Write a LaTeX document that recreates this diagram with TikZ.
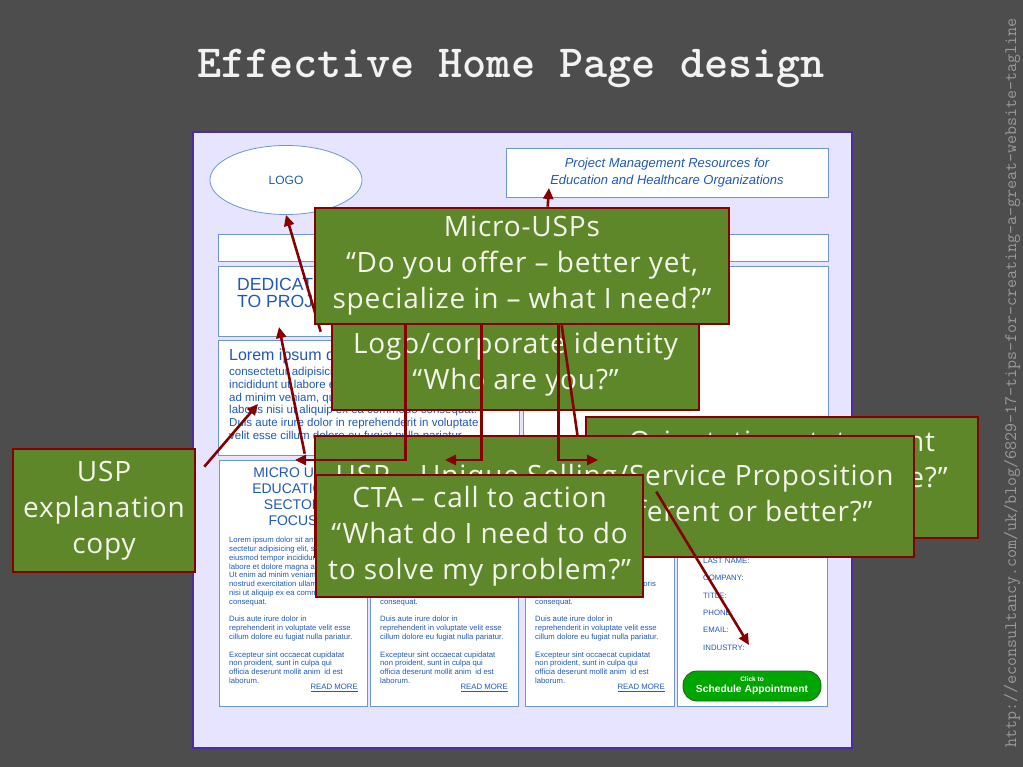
\documentclass[tikz,border=0pt]{standalone}
\usepackage{fontspec}
\usepackage{xcolor}
\usepackage{tikz}
\usetikzlibrary{calc,shapes.geometric,arrows.meta}
\setmainfont{Liberation Sans}
\newfontfamily\callfont{Open Sans}[LetterSpace=3]
\definecolor{slide}{HTML}{4D4D4D}
\definecolor{titlewhite}{HTML}{F2F2F2}
\definecolor{urlgray}{HTML}{9A9A9A}
\definecolor{panel}{HTML}{E6E4FE}
\definecolor{panelline}{HTML}{4F2AA5}
\definecolor{wireline}{HTML}{6C94D8}
\definecolor{wireblue}{HTML}{2059B8}
\definecolor{callgreen}{HTML}{5E8729}
\definecolor{callred}{HTML}{860000}
\definecolor{calltext}{HTML}{F4F4EC}
\definecolor{buttongreen}{HTML}{00A600}
\definecolor{buttonline}{HTML}{1F5F1F}

\tikzset{
  wirebox/.style={draw=wireline, fill=white, line width=0.8pt, inner sep=0pt},
  wiretext/.style={text=wireblue, inner sep=0pt, align=left},
  callout/.style={draw=callred, fill=callgreen, line width=2.6pt, text=calltext,
                  font=\callfont\fontsize{28}{36}\selectfont, align=center, inner sep=0pt},
  callarrow/.style={-{Triangle[length=11pt,width=10pt]}, line width=2.6pt, draw=callred},
  callline/.style={line width=2.6pt, draw=callred},
}

% same copy in the three micro-USP columns
\newcommand{\colbody}{Lorem ipsum dolor sit amet, con-\\sectetur adipisicing elit, sed do\\eiusmod tempor incididunt ut\\labore et dolore magna aliqua.\\Ut enim ad minim veniam, quis\\nostrud exercitation ullamco laboris\\nisi ut aliquip ex ea commodo\\consequat.\\[8.8pt]Duis aute irure dolor in\\reprehenderit in voluptate velit esse\\cillum dolore eu fugiat nulla pariatur.\\[8.8pt]Excepteur sint occaecat cupidatat\\non proident, sunt in culpa qui\\officia deserunt mollit anim\ \ id est\\laborum.}

\begin{document}
\begin{tikzpicture}[x=1pt, y=-1pt]
% slide and page size
\fill[slide] (0,0) rectangle (1023,767);
\useasboundingbox (0,0) rectangle (1023,767);

\node[text=titlewhite, font=\ttfamily\bfseries\fontsize{46}{50}\selectfont] (title) at (511,68) {Effective Home Page design};
\node[text=urlgray, font=\ttfamily\fontsize{17.5}{18}\selectfont, rotate=90] (url) at (1012,383)
     {http://econsultancy.com/uk/blog/6829-17-tips-for-creating-a-great-website-tagline};

% the wireframe of the home page
\draw[draw=panelline, fill=panel, line width=2pt] (193,132) rectangle (852,748);

\node[wirebox, ellipse, minimum width=152pt, minimum height=69pt, text=wireblue,
      font=\fontsize{12}{14}\selectfont] (logo) at (286,180) {LOGO};
\node[wirebox, minimum width=322pt, minimum height=49pt, text=wireblue, align=center,
      font=\itshape\fontsize{13}{17}\selectfont] (tagline) at (667,172.5)
     {Project Management Resources for\\Education and Healthcare Organizations};
\node[wirebox, minimum width=610pt, minimum height=27pt] (navbar) at (523,247.5) {};
\node[wirebox, minimum width=301pt, minimum height=70pt] (banner) at (368.5,301) {};
\node[wirebox, minimum width=301pt, minimum height=115pt] (lorem) at (368.5,397.5) {};
\node[wirebox, minimum width=305pt, minimum height=189pt] (rightpanel) at (675.5,360.5) {};
\node[wirebox, minimum width=148pt, minimum height=246pt] (col1) at (293,583) {};
\node[wirebox, minimum width=148pt, minimum height=246pt] (col2) at (444,583) {};
\node[wirebox, minimum width=149pt, minimum height=246pt] (col3) at (599.5,583) {};
\node[wirebox, minimum width=150pt, minimum height=246pt] (col4) at (752,583) {};

\node[wiretext, anchor=north west, font=\fontsize{17.6}{17.5}\selectfont] (bannertext) at (237,278)
     {DEDICATED\\TO PROJECT};
\node[wiretext, anchor=north west, font=\fontsize{16}{18}\selectfont] (loremhead) at (229,348.5)
     {Lorem ipsum dolor sit amet,};
\node[wiretext, anchor=north west, font=\fontsize{11.5}{12.8}\selectfont] (loremtext) at (229,367)
     {consectetur adipisicing elit, sed do eiusmod tempor\\incididunt ut labore et dolore magna aliqua. Ut enim\\ad minim veniam, quis nostrud exercitation ullamco\\laboris nisi ut aliquip ex ea commodo consequat.\\Duis aute irure dolor in reprehenderit in voluptate\\velit esse cillum dolore eu fugiat nulla pariatur.};

\node[wiretext, anchor=north, align=center, font=\fontsize{14}{16}\selectfont] (col1head) at (293,468)
     {MICRO USP\\EDUCATION\\SECTOR\\FOCUS};
\node[wiretext, anchor=north west, font=\fontsize{7.7}{8.8}\selectfont] (col1text) at (229,537) {\colbody};
\node[wiretext, anchor=north west, font=\fontsize{7.7}{8.8}\selectfont] (col2text) at (380,537) {\colbody};
\node[wiretext, anchor=north west, font=\fontsize{7.7}{8.8}\selectfont] (col3text) at (535,537) {\colbody};
\node[wiretext, anchor=east, font=\fontsize{7.8}{9}\selectfont] (more1) at (358,688) {\underline{READ MORE}};
\node[wiretext, anchor=east, font=\fontsize{7.8}{9}\selectfont] (more2) at (508,688) {\underline{READ MORE}};
\node[wiretext, anchor=east, font=\fontsize{7.8}{9}\selectfont] (more3) at (665,688) {\underline{READ MORE}};

\node[wiretext, anchor=north west, font=\fontsize{7.8}{17.3}\selectfont] (form) at (703,558)
     {LAST NAME:\\COMPANY:\\TITLE:\\PHONE:\\EMAIL:\\INDUSTRY:};
\node[draw=buttonline, fill=buttongreen, line width=0.8pt, rounded corners=14pt,
      minimum width=138pt, minimum height=30pt, inner sep=0pt, text=white, align=center,
      font=\bfseries\fontsize{10.3}{11}\selectfont] (button) at (752,686)
     {{\fontsize{6.5}{7}\selectfont Click to}\\Schedule Appointment};

% callouts, back to front
\node[callout, minimum width=182pt, minimum height=123pt] (uspexpl) at (104,510.5)
     {USP\\explanation\\copy};
\coordinate (lorempt) at (258,404);
\draw[callarrow] ($(uspexpl.north east)+(8,19)$) -- (lorempt);

\node[callout, minimum width=367pt, minimum height=92pt] (logoid) at (515.5,364)
     {Logo/corporate identity\\“Who are you?”};
\draw[callarrow] ($(logoid.north west)+(-10,15)$) -- (logo.south);

\node[callout, minimum width=414pt, minimum height=116pt] (micro) at (522,266)
     {Micro-USPs\\“Do you offer – better yet,\\specialize in – what I need?”};
\coordinate (tagfoot) at (549,188);
\draw[callarrow] ($(micro.north west)+(234,0)$) -- (tagfoot);

\node[callout, minimum width=392pt, minimum height=121pt] (orient) at (782,477.5)
     {Orientation statement\\“Am I in the right place?”\\\mbox{}};
\coordinate (orientpt) at (579,446);
\draw[callline] ($(micro.south west)+(248,0)$) -- (orientpt);

\node[callout, minimum width=599pt, minimum height=121pt] (uspbox) at (614.5,496.5)
     {USP – Unique Selling/Service Proposition\\“What makes you different or better?”};
\coordinate (bannerpt) at (279,327);
\draw[callarrow] ($(uspbox.north west)+(-9,19)$) -- (bannerpt);

% micro-USPs point at the column heads
\coordinate (head1) at (295,460);
\coordinate (head2) at (445,460);
\coordinate (head3) at (598,460);
\draw[callarrow] ($(micro.south west)+(92,0)$) |- (head1);
\draw[callarrow] ($(micro.south west)+(168,0)$) |- (head2);
\draw[callarrow] ($(micro.south west)+(245,0)$) |- (head3);

\node[callout, minimum width=327pt, minimum height=122pt] (cta) at (479.5,536)
     {CTA – call to action\\“What do I need to do\\to solve my problem?”};
\coordinate (formpt) at (749,645);
\draw[callarrow] ($(cta.north east)+(12,18)$) -- (formpt);

\end{tikzpicture}
\end{document}
